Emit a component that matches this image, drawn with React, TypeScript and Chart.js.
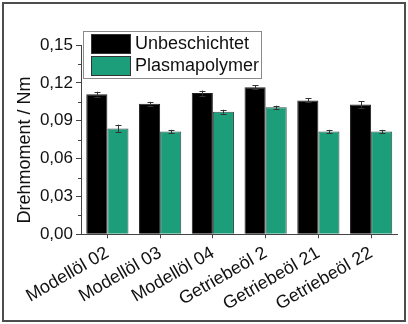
import React, { useEffect, useRef } from "react";
import { Chart, registerables } from "chart.js";

Chart.register(...registerables);

const categories = [
  "Modellöl 02",
  "Modellöl 03",
  "Modellöl 04",
  "Getriebeöl 2",
  "Getriebeöl 21",
  "Getriebeöl 22",
];

const seriesNames = ["Unbeschichtet", "Plasmapolymer"];

const unbeschichtet = [0.111, 0.1034, 0.1119, 0.1166, 0.1061, 0.1029];
const unbeschichtetErr = [0.002, 0.0016, 0.002, 0.0016, 0.0016, 0.0026];

const plasmapolymer = [0.0839, 0.0815, 0.0971, 0.1006, 0.0815, 0.0815];
const plasmapolymerErr = [0.003, 0.0013, 0.0016, 0.0013, 0.0013, 0.0013];

const yTicks = [0, 0.03, 0.06, 0.09, 0.12, 0.15];
const yMinorTicks = [0.015, 0.045, 0.075, 0.105, 0.135];

const yTitle = "Drehmoment / Nm";

const FONT = "'Liberation Sans', Arial, Helvetica, sans-serif";
const TEXT = "#111111";
const AXIS = "#444444";
const BLACK = "#000000";
const GREEN = "#1d9e7b";

const errors = [unbeschichtetErr, plasmapolymerErr];
const fills = [BLACK, GREEN];

const decorPlugin = {
  id: "decor",
  afterDatasetsDraw(chart: any) {
    const ctx = chart.ctx;
    const y = chart.scales.y;
    ctx.save();
    ctx.strokeStyle = "#333333";
    ctx.lineWidth = 1;
    chart.data.datasets.forEach((ds: any, i: number) => {
      const meta = chart.getDatasetMeta(i);
      meta.data.forEach((bar: any, j: number) => {
        const v = ds.data[j];
        const e = errors[i][j];
        const x = Math.round(bar.x) + 0.5;
        const yTop = y.getPixelForValue(v + e);
        const yBot = y.getPixelForValue(v - e);
        ctx.beginPath();
        ctx.moveTo(x, yTop);
        ctx.lineTo(x, yBot);
        ctx.moveTo(x - 3, Math.round(yTop) + 0.5);
        ctx.lineTo(x + 3, Math.round(yTop) + 0.5);
        ctx.moveTo(x - 3, Math.round(yBot) + 0.5);
        ctx.lineTo(x + 3, Math.round(yBot) + 0.5);
        ctx.stroke();
      });
    });
    ctx.restore();
  },
  afterDraw(chart: any) {
    const ctx = chart.ctx;
    const y = chart.scales.y;
    const area = chart.chartArea;
    ctx.save();

    // minor ticks on the value axis
    ctx.strokeStyle = AXIS;
    ctx.lineWidth = 1;
    ctx.beginPath();
    yMinorTicks.forEach((v) => {
      const py = Math.round(y.getPixelForValue(v)) + 0.5;
      ctx.moveTo(area.left - 3, py);
      ctx.lineTo(area.left, py);
    });
    ctx.stroke();

    // value axis title
    ctx.fillStyle = TEXT;
    ctx.font = `18px ${FONT}`;
    ctx.textAlign = "center";
    ctx.textBaseline = "middle";
    ctx.translate(25, 150);
    ctx.rotate(-Math.PI / 2);
    ctx.fillText(yTitle, 0, 0);
    ctx.setTransform(1, 0, 0, 1, 0, 0);

    // legend box
    const lx = 83.5;
    const ly = 31.5;
    const lw = 178;
    const lh = 47;
    ctx.fillStyle = "#ffffff";
    ctx.fillRect(lx, ly, lw, lh);
    ctx.strokeStyle = "#8a8a8a";
    ctx.strokeRect(lx, ly, lw, lh);
    seriesNames.forEach((name, i) => {
      const sy = 34 + i * 22;
      ctx.fillStyle = fills[i];
      ctx.fillRect(91, sy, 40, 20);
      ctx.strokeStyle = "#333333";
      ctx.strokeRect(91.5, sy + 0.5, 39, 19);
      ctx.fillStyle = TEXT;
      ctx.font = `18px ${FONT}`;
      ctx.textAlign = "left";
      ctx.textBaseline = "middle";
      ctx.fillText(name, 135, sy + 10.5);
    });

    // outer frame
    ctx.strokeStyle = "#4d4d4d";
    ctx.lineWidth = 2;
    ctx.strokeRect(3, 3, 402, 318);
    ctx.restore();
  },
};

export default function App() {
  const canvasRef = useRef<HTMLCanvasElement | null>(null);

  useEffect(() => {
    document.body.style.margin = "0";
    const canvas = canvasRef.current;
    if (!canvas) return;

    const chart = new Chart(canvas, {
      type: "bar",
      data: {
        labels: categories,
        datasets: [
          {
            label: seriesNames[0],
            data: unbeschichtet,
            backgroundColor: BLACK,
            borderColor: "#222222",
            borderWidth: 1,
            categoryPercentage: 0.8,
            barPercentage: 1,
          },
          {
            label: seriesNames[1],
            data: plasmapolymer,
            backgroundColor: GREEN,
            borderColor: "#2f4f45",
            borderWidth: 1,
            categoryPercentage: 0.8,
            barPercentage: 1,
          },
        ],
      },
      options: {
        responsive: false,
        animation: false,
        layout: { padding: { left: 0, top: 45, right: 10.5, bottom: 0 } },
        plugins: {
          legend: { display: false },
          title: { display: false },
          tooltip: { enabled: false },
        },
        scales: {
          x: {
            afterFit: (scale: any) => {
              scale.height = 89.7;
            },
            grid: {
              offset: false,
              drawOnChartArea: false,
              drawTicks: true,
              tickLength: 4,
              tickColor: AXIS,
            },
            border: { display: true, color: AXIS, width: 1 },
            ticks: {
              autoSkip: false,
              minRotation: 30,
              maxRotation: 30,
              padding: 4,
              color: TEXT,
              font: { family: FONT, size: 18 },
            },
          },
          y: {
            min: 0,
            max: 0.15,
            afterFit: (scale: any) => {
              scale.width = 81;
            },
            afterBuildTicks: (scale: any) => {
              scale.ticks = yTicks.map((v) => ({ value: v }));
            },
            grid: {
              drawOnChartArea: false,
              drawTicks: true,
              tickLength: 5,
              tickColor: AXIS,
            },
            border: { display: true, color: AXIS, width: 1 },
            ticks: {
              padding: 3,
              color: TEXT,
              font: { family: FONT, size: 17 },
              callback: (v: any) => Number(v).toFixed(2).replace(".", ","),
            },
          },
        },
      },
      plugins: [decorPlugin],
    });

    return () => chart.destroy();
  }, []);

  return (
    <div style={{ width: 408, height: 324, background: "#ffffff" }}>
      <canvas ref={canvasRef} width={408} height={324} />
    </div>
  );
}
